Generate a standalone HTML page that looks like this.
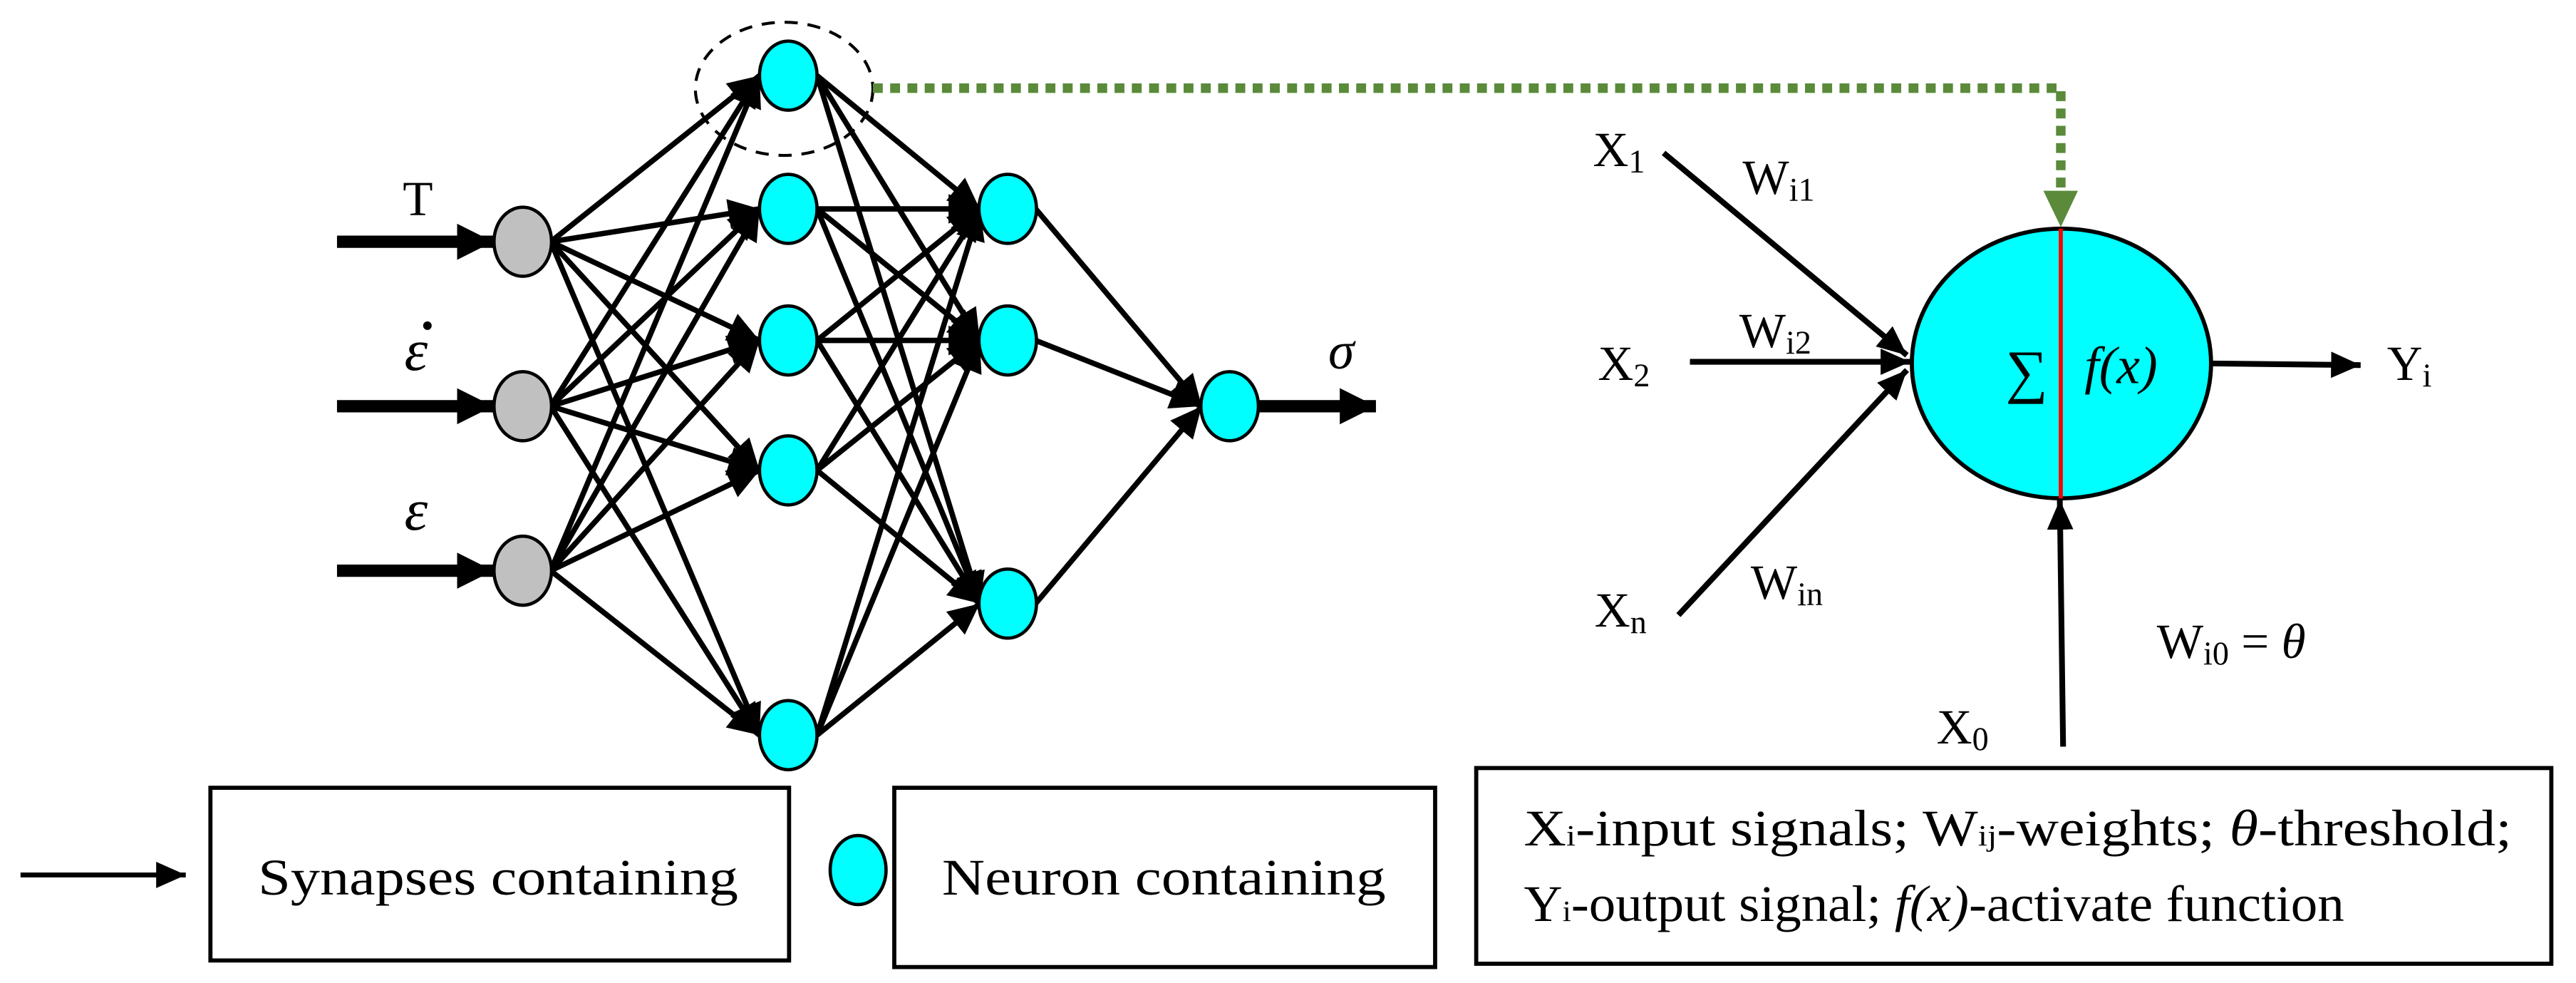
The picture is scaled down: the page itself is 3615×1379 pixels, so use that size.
<!DOCTYPE html>
<html><head><meta charset="utf-8"><style>
html,body{margin:0;padding:0;background:#fff;}
svg{display:block;}
text{font-family:"Liberation Serif",serif;fill:#000;}
</style></head><body>
<svg width="3615" height="1379" viewBox="0 0 1567 597.7" preserveAspectRatio="none" xmlns="http://www.w3.org/2000/svg">
<defs>
<marker id="a" markerUnits="userSpaceOnUse" markerWidth="22" markerHeight="20" refX="19" refY="9" orient="auto"><path d="M0,0 L19,9 L0,18 Z" fill="#000"/></marker>
<marker id="s" markerUnits="userSpaceOnUse" markerWidth="20" markerHeight="18" refX="18" refY="8" orient="auto"><path d="M0,0 L18,8 L0,16 Z" fill="#000"/></marker>
<marker id="big" markerUnits="userSpaceOnUse" markerWidth="24" markerHeight="24" refX="22" refY="11" orient="auto"><path d="M0,0 L22,11 L0,22 Z" fill="#000"/></marker>
</defs>
<g stroke="#000" stroke-width="3.3" marker-end="url(#a)" fill="none">
<line x1="335" y1="147" x2="462" y2="46"/><line x1="335" y1="147" x2="462" y2="127"/><line x1="335" y1="147" x2="462" y2="207"/><line x1="335" y1="147" x2="462" y2="286"/><line x1="335" y1="147" x2="462" y2="447"/>
<line x1="335" y1="247" x2="462" y2="46"/><line x1="335" y1="247" x2="462" y2="127"/><line x1="335" y1="247" x2="462" y2="207"/><line x1="335" y1="247" x2="462" y2="286"/><line x1="335" y1="247" x2="462" y2="447"/>
<line x1="335" y1="347" x2="462" y2="46"/><line x1="335" y1="347" x2="462" y2="127"/><line x1="335" y1="347" x2="462" y2="207"/><line x1="335" y1="347" x2="462" y2="286"/><line x1="335" y1="347" x2="462" y2="447"/>
<line x1="497" y1="46" x2="596" y2="127"/><line x1="497" y1="46" x2="596" y2="207"/><line x1="497" y1="46" x2="596" y2="367"/>
<line x1="497" y1="127" x2="596" y2="127"/><line x1="497" y1="127" x2="596" y2="207"/><line x1="497" y1="127" x2="596" y2="367"/>
<line x1="497" y1="207" x2="596" y2="127"/><line x1="497" y1="207" x2="596" y2="207"/><line x1="497" y1="207" x2="596" y2="367"/>
<line x1="497" y1="286" x2="596" y2="127"/><line x1="497" y1="286" x2="596" y2="207"/><line x1="497" y1="286" x2="596" y2="367"/>
<line x1="497" y1="447" x2="596" y2="127"/><line x1="497" y1="447" x2="596" y2="207"/><line x1="497" y1="447" x2="596" y2="367"/>
<line x1="630" y1="127" x2="731" y2="247"/><line x1="630" y1="207" x2="731" y2="247"/><line x1="630" y1="367" x2="731" y2="247"/>
</g>
<g stroke="#000" stroke-width="7.5" marker-end="url(#big)">
<line x1="205" y1="147" x2="300" y2="147"/><line x1="205" y1="247" x2="300" y2="247"/><line x1="205" y1="347" x2="300" y2="347"/>
<line x1="766" y1="247" x2="837" y2="247"/>
</g>
<g stroke="#000" stroke-width="2">
<ellipse cx="318" cy="147" rx="17.5" ry="21" fill="#c0c0c0"/><ellipse cx="318" cy="247" rx="17.5" ry="21" fill="#c0c0c0"/><ellipse cx="318" cy="347" rx="17.5" ry="21" fill="#c0c0c0"/>
<g fill="#00ffff">
<ellipse cx="479.5" cy="46" rx="17.5" ry="21"/><ellipse cx="479.5" cy="127" rx="17.5" ry="21"/><ellipse cx="479.5" cy="207" rx="17.5" ry="21"/><ellipse cx="479.5" cy="286" rx="17.5" ry="21"/><ellipse cx="479.5" cy="447" rx="17.5" ry="21"/>
<ellipse cx="613" cy="127" rx="17.5" ry="21"/><ellipse cx="613" cy="207" rx="17.5" ry="21"/><ellipse cx="613" cy="367" rx="17.5" ry="21"/>
<ellipse cx="748" cy="247" rx="17.5" ry="21"/>
<ellipse cx="522" cy="529" rx="17" ry="21"/>
</g>
</g>
<ellipse cx="477" cy="54" rx="54" ry="40.5" fill="none" stroke="#000" stroke-width="1.8" stroke-dasharray="8,6"/>
<polyline points="531,53.6 1253.6,53.6 1253.6,118" fill="none" stroke="#5a8a3a" stroke-width="5.8" stroke-dasharray="6,4.5"/>
<path d="M1243,116 L1264,116 L1253.6,138 Z" fill="#5a8a3a"/>
<text x="245" y="131" font-size="30">T</text>
<text x="246" y="225" font-size="36" font-style="italic">ε</text>
<circle cx="260" cy="198" r="2.6" fill="#000"/>
<text x="246" y="322" font-size="36" font-style="italic">ε</text>
<text x="808" y="224" font-size="32" font-style="italic">σ</text>
<g stroke="#000" stroke-width="3.5" marker-end="url(#s)">
<line x1="1012" y1="93" x2="1160" y2="216"/>
<line x1="1028" y1="220" x2="1162" y2="220"/>
<line x1="1021" y1="374" x2="1160" y2="225"/>
<line x1="1345" y1="221" x2="1436" y2="222"/>
<line x1="1255" y1="454" x2="1253" y2="304"/>
</g>
<ellipse cx="1254" cy="221" rx="91" ry="82" fill="#00ffff" stroke="#000" stroke-width="2.5"/>
<line x1="1253.6" y1="139" x2="1253.6" y2="303" stroke="#f00" stroke-width="2.5"/>
<text x="1220" y="238" font-size="36">∑</text>
<text x="1268" y="233" font-size="32" font-style="italic">f(x)</text>
<g font-size="30">
<text x="969" y="101">X<tspan font-size="20" dy="4">1</tspan></text>
<text x="972" y="231">X<tspan font-size="20" dy="4">2</tspan></text>
<text x="970" y="381">X<tspan font-size="20" dy="4">n</tspan></text>
<text x="1060" y="118">W<tspan font-size="20" dy="4">i1</tspan></text>
<text x="1058" y="211">W<tspan font-size="20" dy="4">i2</tspan></text>
<text x="1065" y="364">W<tspan font-size="20" dy="4">in</tspan></text>
<text x="1452" y="231">Y<tspan font-size="20" dy="4">i</tspan></text>
<text x="1178" y="452">X<tspan font-size="20" dy="4">0</tspan></text>
<text x="1312" y="400">W<tspan font-size="20" dy="4">i0</tspan><tspan dy="-4"> = </tspan><tspan font-style="italic">θ</tspan></text>
</g>
<line x1="12.5" y1="532" x2="113" y2="532" stroke="#000" stroke-width="3" marker-end="url(#s)"/>
<rect x="128" y="479" width="352" height="105" fill="none" stroke="#000" stroke-width="2.5"/>
<rect x="544" y="479" width="329" height="109" fill="none" stroke="#000" stroke-width="2.5"/>
<rect x="898" y="467" width="654" height="119" fill="none" stroke="#000" stroke-width="2.5"/>
<text x="157" y="544" font-size="31" textLength="292" lengthAdjust="spacingAndGlyphs">Synapses containing</text>
<text x="573" y="544" font-size="31" textLength="270" lengthAdjust="spacingAndGlyphs">Neuron containing</text>
<text x="927" y="514" font-size="31" textLength="601" lengthAdjust="spacingAndGlyphs">X<tspan font-size="18">i</tspan>-input signals; W<tspan font-size="18">ij</tspan>-weights; <tspan font-style="italic">θ</tspan>-threshold;</text>
<text x="927" y="560" font-size="31" textLength="499" lengthAdjust="spacingAndGlyphs">Y<tspan font-size="18">i</tspan>-output signal; <tspan font-style="italic">f(x)</tspan>-activate function</text>
</svg>
</body></html>
